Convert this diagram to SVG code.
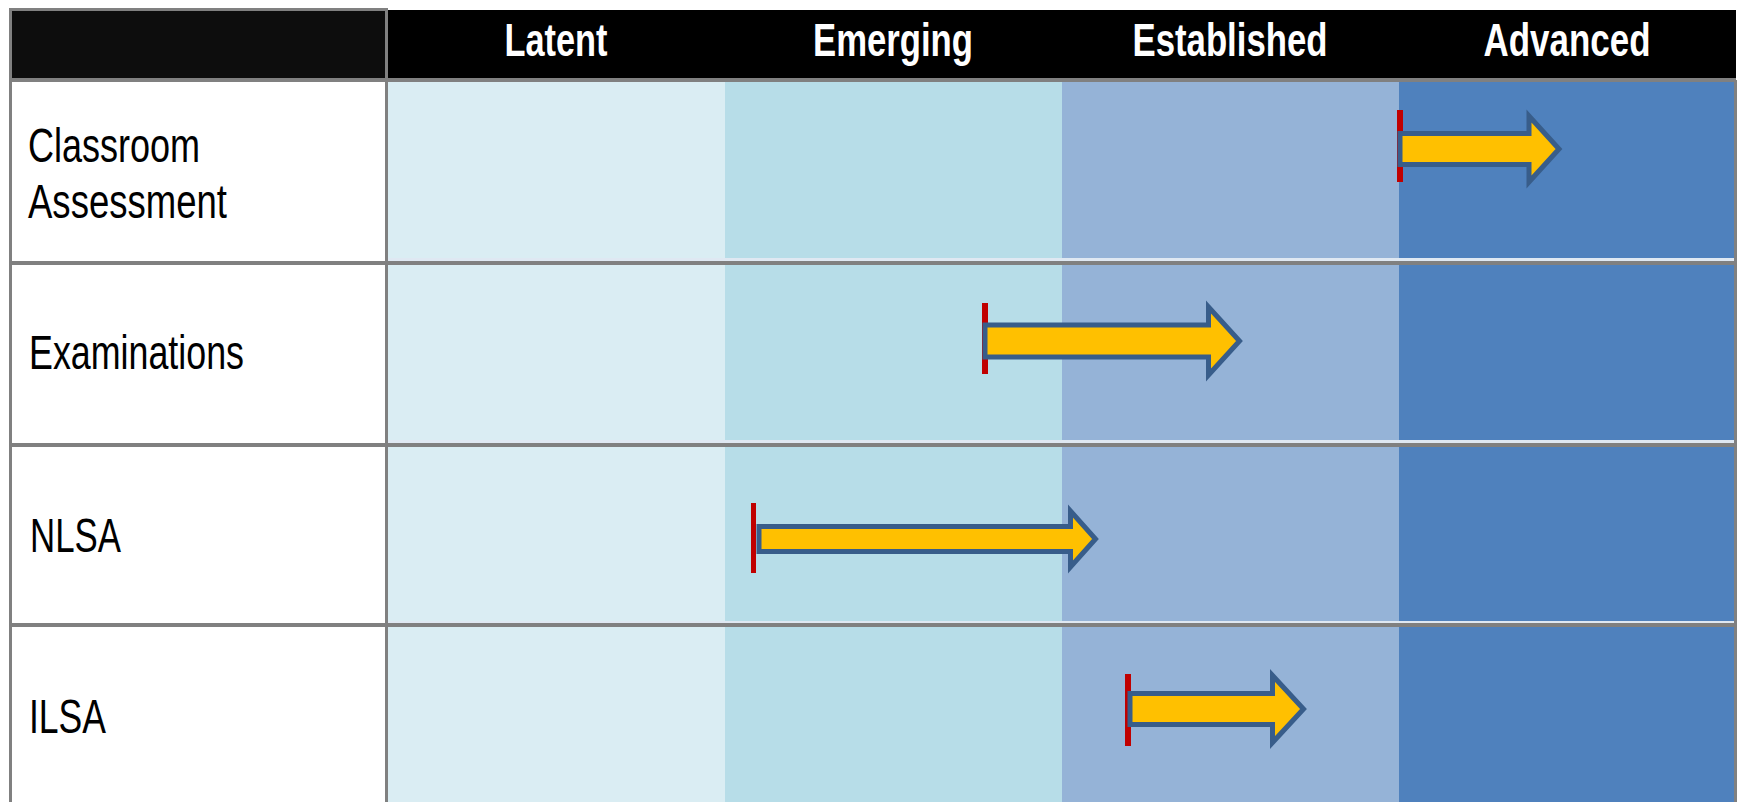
<svg xmlns="http://www.w3.org/2000/svg" width="1738" height="802" viewBox="0 0 1738 802">
<defs>
<style>
.hdr{font-family:"Liberation Sans",Arial,sans-serif;font-weight:bold;font-size:47px;fill:#ffffff;text-anchor:middle}
.lbl{font-family:"Liberation Sans",Arial,sans-serif;font-size:48px;fill:#000000}
.sepL{fill:#dfe8f2}
.sepG{fill:#808080}
.bar{fill:#c00000}
.arrow{fill:#ffc000;stroke:#385d8a;stroke-width:5;stroke-linejoin:miter}
</style>
</defs>
<rect width="1738" height="802" fill="#ffffff"/>
<g id="grid">
<rect x="11" y="10" width="377" height="70" fill="#0d0d0d"/>
<rect x="388" y="10" width="1348" height="70" fill="#000000"/>
<rect x="388" y="80" width="337" height="722" fill="#daedf3"/>
<rect x="725" y="80" width="337" height="722" fill="#b7dde8"/>
<rect x="1062" y="80" width="337" height="722" fill="#95b3d7"/>
<rect x="1399" y="80" width="336" height="722" fill="#4f81bd"/>
<rect x="388" y="258" width="1347" height="3" class="sepL"/>
<rect x="388" y="440" width="1347" height="3" class="sepL"/>
<rect x="388" y="621" width="1347" height="3" class="sepL"/>
<rect x="11" y="78" width="1725" height="4" class="sepG"/>
<rect x="11" y="261" width="1725" height="4" class="sepG"/>
<rect x="11" y="443" width="1725" height="4" class="sepG"/>
<rect x="11" y="623" width="1725" height="4" class="sepG"/>
<rect x="9" y="9" width="3" height="793" class="sepG"/>
<rect x="9" y="8" width="379" height="3" class="sepG"/>
<rect x="385" y="8" width="3" height="794" class="sepG"/>
<rect x="1734" y="80" width="3" height="722" class="sepG"/>
</g>
<g id="header">
<text class="hdr" x="556" y="56" textLength="103" lengthAdjust="spacingAndGlyphs">Latent</text>
<text class="hdr" x="893" y="56" textLength="160" lengthAdjust="spacingAndGlyphs">Emerging</text>
<text class="hdr" x="1230" y="56" textLength="195" lengthAdjust="spacingAndGlyphs">Established</text>
<text class="hdr" x="1567" y="56" textLength="167" lengthAdjust="spacingAndGlyphs">Advanced</text>
</g>
<g id="row-classroom">
<text class="lbl" x="28" y="162" textLength="172" lengthAdjust="spacingAndGlyphs">Classroom</text>
<text class="lbl" x="28" y="218" textLength="199" lengthAdjust="spacingAndGlyphs">Assessment</text>
</g>
<g id="row-examinations">
<text class="lbl" x="29" y="369" textLength="215" lengthAdjust="spacingAndGlyphs">Examinations</text>
</g>
<g id="row-nlsa">
<text class="lbl" x="30" y="552" textLength="91" lengthAdjust="spacingAndGlyphs">NLSA</text>
</g>
<g id="row-ilsa">
<text class="lbl" x="29" y="733" textLength="77" lengthAdjust="spacingAndGlyphs">ILSA</text>
</g>
<g id="connectors">
<rect class="bar" x="1397" y="110" width="6" height="72"/>
<path class="arrow" d="M1400,133.5 H1529 V116 L1559,149 L1529,182 V164.5 H1400 Z"/>
<rect class="bar" x="982" y="303" width="6" height="71"/>
<path class="arrow" d="M985,325 H1208.5 V307 L1239.5,341 L1208.5,375 V357 H985 Z"/>
<rect class="bar" x="751" y="503" width="5" height="70"/>
<path class="arrow" d="M759,526.5 H1070.5 V511 L1095.5,539 L1070.5,567 V551.5 H759 Z"/>
<rect class="bar" x="1125" y="674" width="6" height="72"/>
<path class="arrow" d="M1130,693.5 H1272.5 V675.5 L1303.5,709 L1272.5,742.5 V724.5 H1130 Z"/>
</g>
</svg>
